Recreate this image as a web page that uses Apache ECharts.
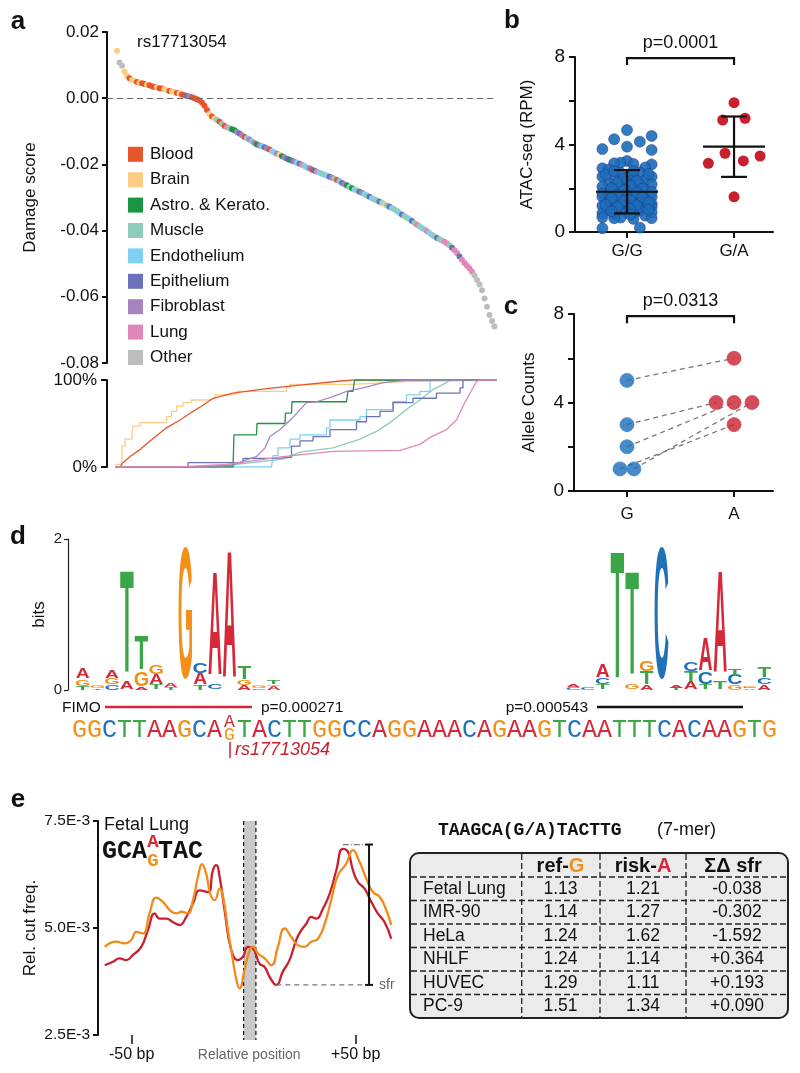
<!DOCTYPE html>
<html><head><meta charset="utf-8">
<script src="https://cdn.jsdelivr.net/npm/echarts@6/dist/echarts.min.js"></script>
<style>html,body{margin:0;padding:0;background:#fff}#c{width:800px;height:1073px}</style>
</head><body><div id="c"></div>
<script>
// ================= DATA =================
// Panel a
const tissueNames = ['Blood','Brain','Astro. & Kerato.','Muscle','Endothelium','Epithelium','Fibroblast','Lung','Other'];
const tissueCodes = 'BRKMEPFLO';
const tissueColors = ['#E9552B','#FBCD84','#1B9544','#8ECDB9','#7FD0F2','#6A72B9','#A784BF','#E287BA','#BDBDBD'];
const damageScores = [0.0143,0.0108,0.0098,0.0080,0.0068,0.0060,0.0055,0.0051,0.0049,0.0046,
 0.0045,0.0043,0.0040,0.0039,0.0036,0.0034,0.0033,0.0030,0.0029,0.0027,
 0.0024,0.0022,0.0020,0.0019,0.0016,0.0014,0.0011,0.0009,0.0007,0.0005,
 0.0003,0.0000,-0.0003,-0.0007,-0.0014,-0.0023,-0.0036,-0.0048,-0.0055,-0.0061,
 -0.0066,-0.0071,-0.0078,-0.0084,-0.0088,-0.0091,-0.0094,-0.0097,-0.0102,-0.0107,
 -0.0112,-0.0117,-0.0121,-0.0125,-0.0130,-0.0135,-0.0140,-0.0143,-0.0145,-0.0148,
 -0.0152,-0.0155,-0.0160,-0.0164,-0.0168,-0.0171,-0.0175,-0.0179,-0.0183,-0.0186,
 -0.0189,-0.0192,-0.0195,-0.0198,-0.0201,-0.0205,-0.0209,-0.0212,-0.0216,-0.0219,
 -0.0222,-0.0225,-0.0228,-0.0231,-0.0234,-0.0237,-0.0240,-0.0243,-0.0247,-0.0251,
 -0.0256,-0.0260,-0.0264,-0.0268,-0.0272,-0.0276,-0.0279,-0.0283,-0.0286,-0.0290,
 -0.0294,-0.0298,-0.0302,-0.0306,-0.0309,-0.0313,-0.0316,-0.0320,-0.0324,-0.0328,
 -0.0332,-0.0336,-0.0341,-0.0347,-0.0352,-0.0356,-0.0361,-0.0366,-0.0371,-0.0377,
 -0.0382,-0.0387,-0.0392,-0.0397,-0.0402,-0.0407,-0.0413,-0.0418,-0.0422,-0.0426,
 -0.0430,-0.0434,-0.0439,-0.0444,-0.0452,-0.0459,-0.0468,-0.0478,-0.0488,-0.0498,
 -0.0506,-0.0514,-0.0524,-0.0536,-0.0549,-0.0563,-0.0580,-0.0605,-0.0630,-0.0655,
 -0.0673,-0.0690];
const damageTissues = 'ROORRBRRBR'+'BBRBBBRBBR'+'RBRRBRBBPF'+'BBBBBBBRBR'+'MBMBLMKKFP'+
 'FBEFMFKFEP'+'FBEEFRKFPK'+'PFEPLMEFBP'+'LEMMEPFMBE'+'PFKMKEMPFE'+'MPEMMPERMP'+
 'EMMEPMMEPM'+'LMEMLEMMPM'+'MLLMPLLPLL'+'LLLOOOOOOOOO';
// cumulative fraction (%) per tissue along the rank
const cdfBrain = [[-0.8,3],[2,24],[3.2,32],[6,37],[6.4,47],[9.2,51],[18.4,51],[19.8,58],[21.8,64],[23.8,70],[26.4,74],[29.8,77],[37.2,79],[39.2,83],[46.4,84],[47.8,87],[67.8,92],[69.2,95],[94.4,97],[107.8,98],[109.2,100],[152,100]];
const cdfBlood = [[-0.8,0],[1.2,0],[2.4,5],[5.2,12],[9.2,20],[13.2,30],[19.8,45],[25.2,54],[30.4,64],[34.4,71],[38.4,79],[46.4,85],[59.8,90],[73.2,94],[86.4,98],[94.4,100],[152,100]];
const cdfAstro = [[-0.8,0],[46.4,0],[46.8,37],[55.8,37],[56,50],[67.2,50],[67.4,62],[69.8,62],[70,75],[91.8,75],[92.4,87],[94.4,89],[95,100],[152,100]];
const cdfFibro = [[-0.8,0],[28,0],[28,2],[46.4,2],[50.4,7],[55.8,12],[59.2,22],[61.2,35],[65.2,43],[70.4,57],[75.8,74],[79.8,75],[86.4,81],[91.8,87],[98.4,91],[106.4,97],[117.2,100],[152,100]];
const cdfEpi = [[-0.8,0],[28.4,0],[28.4,5],[50.4,5],[50.4,10],[62.4,11],[69.8,24],[73.2,30],[78.4,35],[85.2,43],[95.8,52],[99.8,58],[105.2,64],[110.4,74],[118.4,79],[127.8,85],[137.2,91],[138.4,100],[152,100]];
const cdfEndo = [[-0.8,0],[61.8,0],[62.4,13],[64.4,22],[69.2,32],[73.2,37],[83.8,45],[85.2,54],[97.2,58],[99.8,66],[110.4,75],[115.8,83],[121.2,87],[125.2,100],[152,100]];
const cdfMuscle = [[-0.8,0],[38.4,0],[50.4,4],[66.4,9],[73.2,17],[86.4,22],[97.2,32],[103.8,41],[109.2,51],[115.8,66],[121.2,77],[126.4,89],[131.8,97],[133.2,100],[152,100]];
const cdfLung = [[-0.8,0],[24.4,0],[24.4,1],[43.8,3],[66.4,12],[86.4,18],[113.2,19],[121.2,26],[125.2,34],[131.8,43],[135.8,54],[138.4,70],[141.2,85],[143.8,98],[145.2,100],[152,100]];

// Panel b
const ggValues = [4.66,4.39,4.24,4.13,3.90,3.79,3.75,3.25,3.17,3.14,3.11,3.09,2.95,2.91,2.85,2.72,2.70,2.53,2.53,2.50,2.42,2.38,2.30,2.22,2.20,2.18,2.07,2.05,2.02,1.95,1.93,1.86,1.84,1.76,1.74,1.72,1.66,1.64,1.61,1.61,1.52,1.50,1.48,1.40,1.38,1.30,1.28,1.30,1.20,1.18,1.16,1.10,1.08,1.00,0.98,0.97,0.90,0.88,0.90,0.85,0.82,0.75,0.67,0.66,0.63,0.63,0.60,0.20,0.17,
 2.60,2.45,2.35,2.25,2.12,2.00,1.98,1.90,1.80,1.70,1.58,1.55,1.45,1.42,1.35,1.25,1.22,1.15,1.05,1.02,0.95,0.80,2.65,2.62,2.80,2.78];
const ggJitter = [0,0.23,-0.12,0.12,0,-0.23,0.23,0,-0.06,-0.12,0.06,0.23,0.17,-0.23,-0.17,0.12,-0.06,-0.23,0.23,0.06,-0.12,0.17,0,-0.17,0.12,0.23,-0.23,-0.06,0.06,-0.12,0.17,0,0.23,-0.23,-0.17,0.12,-0.06,0.06,-0.23,0.23,-0.12,0,0.17,-0.17,0.12,-0.06,0.06,0.23,-0.23,0,0.23,-0.12,0.17,-0.17,-0.06,0.12,0,0.06,0.23,-0.23,-0.12,0.17,-0.23,-0.06,-0.12,0.23,0.06,0.12,-0.23,
 0.03,-0.03,0.09,-0.09,0.03,-0.145,0.145,-0.03,0.09,-0.09,0.145,-0.145,0.03,-0.03,0.2,-0.2,0.09,-0.09,0.03,0.2,-0.145,0.03,0.2,-0.2,0.06,-0.12];
const gaValues = [5.91,5.12,5.20,3.14,3.60,3.25,3.47,1.61];
const gaJitter = [0,-0.106,0.103,-0.24,-0.084,0.087,0.243,0];
const atacGroups = ['G/G','G/A'];
const atacMean = [1.84,3.90];
const atacSD = [0.99,1.38];
const atacP = 'p=0.0001';

// Panel c
const alleleGroups = ['G','A'];
const gCounts = [5,3,2,1,1];
const gJitter = [0,0,0,0.065,-0.065];
const aCounts = [6,4,4,4,3];
const aJitter = [0,-0.168,0,0.168,0];
const alleleP = 'p=0.0313';

// Panel d
const leftMotif = [
 [['T',0.05],['G',0.09],['A',0.13]],
 [['T',0.02],['G',0.03]],
 [['C',0.065],['G',0.085],['A',0.11]],
 [['A',0.10],['T',1.38]],
 [['A',0.04],['G',0.19],['T',0.46]],
 [['T',0.07],['A',0.13],['G',0.12]],
 [['T',0.03],['A',0.05]],
 [['G',1.76]],
 [['T',0.06],['A',0.15],['C',0.13]],
 [['C',0.07],['A',1.39]],
 [['A',1.70]],
 [['A',0.06],['G',0.07],['T',0.18]],
 [['C',0.02],['G',0.03]],
 [['A',0.05],['G',0.02],['T',0.05]]
];
const rightMotif = [
 [['C',0.04],['A',0.04]],
 [['C',0.03]],
 [['T',0.07],['C',0.08],['A',0.17]],
 [['T',1.70]],
 [['G',0.075],['T',1.39]],
 [['A',0.065],['T',0.18],['G',0.13]],
 [['C',1.76]],
 [['T',0.03],['A',0.03]],
 [['A',0.11],['T',0.13],['C',0.12]],
 [['T',0.07],['C',0.15],['A',0.44]],
 [['T',0.11],['A',1.38]],
 [['G',0.065],['C',0.13],['T',0.09]],
 [['A',0.02],['C',0.02],['G',0.02]],
 [['A',0.065],['C',0.09],['T',0.13]]
];
const seqLeft = 'GGCTTAAGCA';
const seqAlleles = ['A','G'];
const seqRight = 'TACTTGGCCAGGAAACAGAAGTCAATTTCACAAGTG';
const fimoP = ['p=0.000271','p=0.000543'];
const snpId = 'rs17713054';

// Panel e
const bpOrange = [-62,-56.8,-53.1,-50.1,-47.9,-44.9,-42,-39,-36,-33,-30,-27.8,-24.9,-22.6,-20.4,-18.6,-16.7,-14.9,-12.9,-10.7,-8.9,-7,-4.8,-3,-1.8,0.4,2.7,4.2,6.4,9.4,12.4,15.3,18.3,21.3,24.2,27.2,30.2,33.2,36.2,39.1,42.1,45.8,48.8,51.8,54.8,57.7,60.7,63.7,65.9];
const cutOrange = [4.56,4.68,4.64,4.72,4.91,4.87,5.34,5.71,5.61,5.42,5.34,5.38,5.34,5.65,6.19,6.49,6.27,5.80,5.65,5.92,5.65,4.95,4.25,3.74,3.59,4.02,4.48,4.56,4.41,4.29,4.13,4.56,4.99,4.79,4.60,4.56,4.68,4.75,5.10,5.65,6.23,6.50,6.82,6.54,6.15,5.84,5.73,5.42,5.07];
const bpRed = [-62,-58.3,-55.4,-52.4,-49.4,-45.7,-42.7,-39.7,-37.5,-34.5,-31.6,-28.6,-25.6,-22.6,-19.6,-15.9,-13.7,-12.2,-10.7,-8.5,-5.5,-2.5,-0.3,1.9,4.2,7.1,9.4,11.6,14.6,17.5,20.5,23.5,25.8,28,30.2,32.4,35.4,38.4,41.4,44.3,46.6,48.8,51,54,57,59.9,62.9,65.9];
const cutRed = [4.13,4.21,4.29,4.25,4.37,4.56,4.95,5.34,5.22,5.22,5.14,5.07,5.26,5.57,5.88,5.84,6.35,6.47,6.19,5.42,4.48,4.25,4.33,4.56,4.52,4.17,4.09,3.86,3.67,3.98,4.25,4.72,4.95,5.10,5.26,5.22,5.45,5.80,6.35,6.85,6.78,6.35,6.08,5.92,5.61,5.34,5.14,4.75];
const snpBand = [0, 5.5];
const sfrMark = {x:56, top:6.95, bottom:3.67, topFrom:44.3, bottomFrom:14.6};
const eTicks = [-50, 50];
const eTickLabels = ['-50 bp','+50 bp'];
const tableRows = ['Fetal Lung','IMR-90','HeLa','NHLF','HUVEC','PC-9'];
const refG = ['1.13','1.14','1.24','1.24','1.29','1.51'];
const riskA = ['1.21','1.27','1.62','1.14','1.11','1.34'];
const sumDeltaSfr = ['-0.038','-0.302','-1.592','+0.364','+0.193','+0.090'];

// ================= STYLE =================
const SANS = '"Liberation Sans", Arial, Helvetica, sans-serif';
const MONO = '"Liberation Mono", "DejaVu Sans Mono", monospace';
const BASE = {A:'#D62839', C:'#1F72B8', G:'#F39019', T:'#3BA647'};
const RED = '#C8202F', BLUE = '#1C6DB8', INK = '#111';

function T(x,y,text,font,fill,align,valign){
  return {type:'text', x:x, y:y, silent:true, z:10, style:{text:text, font:font, fill:fill||INK,
    align:align||'left', textAlign:align||'left', verticalAlign:valign||'middle', textVerticalAlign:valign||'middle'}};
}
function L(x1,y1,x2,y2,stroke,lw,dash){
  return {type:'line', silent:true, z:10, shape:{x1:x1,y1:y1,x2:x2,y2:y2}, style:{stroke:stroke, lineWidth:lw, lineDash:dash||null}};
}
const axLine = w => ({show:true, onZero:false, lineStyle:{color:INK, width:w}});
const axTick = (len,w) => ({show:true, length:len, inside:false, lineStyle:{color:INK, width:w}});
const gridBase = {containLabel:false, outerBoundsMode:'none', show:false};

// ================= GRAPHICS =================
const G = [];
[['a',18,22],['b',512,21],['c',511,307],['d',18,537],['e',18,800]].forEach(p=>G.push(T(p[1],p[2],p[0],'bold 26px '+SANS,INK,'center','middle')));
G.push(T(137,42,snpId,'17px '+SANS));
tissueNames.forEach((n,k)=>{
  const y = 154.3 + 25.4*k;
  G.push({type:'rect', silent:true, z:10, shape:{x:128,y:y-7.5,width:15,height:15}, style:{fill:tissueColors[k]}});
  G.push(T(150,y,n,'17px '+SANS));
});
G.push(T(62,708,'FIMO','15.5px '+SANS));
G.push(L(105,707,252,707,BASE.A,2.5));
G.push(T(261,708,fimoP[0],'15.5px '+SANS));
G.push(T(588,708,fimoP[1],'15.5px '+SANS,INK,'right'));
G.push(L(597,707,743,707,INK,2.5));
const seqX0 = 72, seqW = 15, seqY = 730;
seqLeft.split('').forEach((ch,i)=>G.push(T(seqX0+seqW*(i+0.5),seqY,ch,'25px '+MONO,BASE[ch],'center')));
G.push(T(seqX0+seqW*(seqLeft.length+0.5),seqY-8,seqAlleles[0],'18px '+MONO,BASE[seqAlleles[0]],'center'));
G.push(T(seqX0+seqW*(seqLeft.length+0.5),seqY+5,seqAlleles[1],'18px '+MONO,BASE[seqAlleles[1]],'center'));
seqRight.split('').forEach((ch,i)=>G.push(T(seqX0+seqW*(seqLeft.length+1+i+0.5),seqY,ch,'25px '+MONO,BASE[ch],'center')));
G.push(L(230,742,230,758,RED,1.5));
G.push(T(235,750,snpId,'italic 18px '+SANS,RED));
G.push(T(104,825,'Fetal Lung','18px '+SANS));
G.push(T(102,852,'GCA','bold 25px '+MONO));
G.push(T(153,842,seqAlleles[0],'bold 19px '+MONO,BASE.A,'center'));
G.push(T(153,861,seqAlleles[1],'bold 19px '+MONO,BASE.G,'center'));
G.push(T(158,852,'TAC','bold 25px '+MONO));
G.push(T(438,830,'TAAGCA(G/A)TACTTG','bold 18px '+MONO));
G.push(T(657,830,'(7-mer)','18px '+SANS));
const tb = {x:410,y:853,w:378,h:165,head:24,row:23.5,cols:[521.7,600,686],cx:[560.5,643,737]};
G.push({type:'rect', silent:true, z:5, shape:{x:tb.x,y:tb.y,width:tb.w,height:tb.h,r:9}, style:{fill:'#EBEBEB', stroke:'#222', lineWidth:2}});
for(let r=0;r<tableRows.length;r++){
  const yb = tb.y+tb.head+tb.row*r;
  G.push(L(tb.x+1,yb,tb.x+tb.w-1,yb,'#222',1.3,[6,3]));
  const yc = yb+tb.row/2;
  G.push(T(423,yc,tableRows[r],'17.5px '+SANS));
  G.push(T(tb.cx[0],yc,refG[r],'17.5px '+SANS,INK,'center'));
  G.push(T(tb.cx[1],yc,riskA[r],'17.5px '+SANS,INK,'center'));
  G.push(T(tb.cx[2],yc,sumDeltaSfr[r],'17.5px '+SANS,INK,'center'));
}
tb.cols.forEach(x=>G.push(L(x,tb.y+1,x,tb.y+tb.h-1,'#222',1.3,[6,3])));
const hy = tb.y+tb.head/2+1;
G.push({type:'text', silent:true, z:10, x:tb.cx[0], y:hy, style:{text:'{a|ref-}{b|G}', align:'center', textAlign:'center', verticalAlign:'middle', textVerticalAlign:'middle',
  rich:{a:{font:'bold 20px '+SANS, fill:INK}, b:{font:'bold 20px '+SANS, fill:BASE.G}}}});
G.push({type:'text', silent:true, z:10, x:tb.cx[1], y:hy, style:{text:'{a|risk-}{b|A}', align:'center', textAlign:'center', verticalAlign:'middle', textVerticalAlign:'middle',
  rich:{a:{font:'bold 20px '+SANS, fill:INK}, b:{font:'bold 20px '+SANS, fill:BASE.A}}}});
G.push(T(tb.cx[2]-4,hy,'ΣΔ sfr','bold 20px '+SANS,INK,'center'));

// ================= SERIES HELPERS =================
const glyphW = {A:0.70, C:0.64, G:0.68, T:0.60};
function motifData(motif){
  const out = [];
  motif.forEach((stack,p)=>{ let base = 0; stack.forEach(([b,h])=>{ out.push([p+1, base, base+h, 'ACGT'.indexOf(b)]); base += h; }); });
  return out;
}
function logoRender(params, api){
  const pos = api.value(0), y0 = api.value(1), y1 = api.value(2), letter = 'ACGT'[api.value(3)];
  const a = api.coord([pos-0.46, y0]), b = api.coord([pos+0.46, y1]);
  const w = b[0]-a[0], h = a[1]-b[1];
  if (h <= 0.3) return null;
  const F = 40, sx = w/(glyphW[letter]*F), sy = h/(0.716*F);
  return {type:'text', x:(a[0]+b[0])/2, y:(a[1]+b[1])/2 + 0.0115*F*sy, scaleX:sx, scaleY:sy,
    style:{text:letter, font:'bold 40px '+SANS, fill:BASE[letter], align:'center', textAlign:'center', verticalAlign:'middle', textVerticalAlign:'middle'}};
}
function bracketRender(label){
  return function(params, api){
    const a = api.coord([api.value(0), api.value(2)]), b = api.coord([api.value(1), api.value(2)]);
    const st = {stroke:INK, lineWidth:2.2, fill:null};
    return {type:'group', children:[
      {type:'polyline', shape:{points:[[a[0],a[1]+7],[a[0],a[1]],[b[0],b[1]],[b[0],b[1]+7]]}, style:st},
      {type:'text', x:(a[0]+b[0])/2, y:a[1]-15, style:{text:label, font:'18px '+SANS, fill:INK, align:'center', textAlign:'center', verticalAlign:'middle', textVerticalAlign:'middle'}}
    ]};
  };
}

const option = {
  animation:false,
  backgroundColor:'#fff',
  textStyle:{fontFamily:SANS},
  graphic:{elements:G},
  grid:[
    Object.assign({left:107, top:32, width:390, height:331}, gridBase),
    Object.assign({left:107, top:380, width:390, height:87}, gridBase),
    Object.assign({left:575, top:57, width:198, height:175}, gridBase),
    Object.assign({left:574, top:314, width:199, height:177}, gridBase),
    Object.assign({left:68, top:539, width:213, height:151}, gridBase),
    Object.assign({left:558.6, top:539, width:213, height:151}, gridBase),
    Object.assign({left:98, top:821, width:302.4, height:214}, gridBase)
  ],
  xAxis:[
    {gridIndex:0, type:'value', min:-4, max:152, show:false},
    {gridIndex:1, type:'value', min:-4, max:152, show:false},
    {gridIndex:2, type:'value', min:0.514, max:2.364, axisLine:axLine(2), splitLine:{show:false},
      axisTick:Object.assign(axTick(6,2),{customValues:[1,2]}),
      axisLabel:{customValues:[1,2], formatter:v=>atacGroups[Math.round(v)-1], fontSize:17, color:INK, margin:11}},
    {gridIndex:3, type:'value', min:0.505, max:2.364, axisLine:axLine(2), splitLine:{show:false},
      axisTick:Object.assign(axTick(6,2),{customValues:[1,2]}),
      axisLabel:{customValues:[1,2], formatter:v=>alleleGroups[Math.round(v)-1], fontSize:17, color:INK, margin:15}},
    {gridIndex:4, type:'value', min:0, max:14.5, show:false},
    {gridIndex:5, type:'value', min:0, max:14.5, show:false},
    {gridIndex:6, type:'value', min:-65, max:70, axisLine:{show:false, onZero:false}, splitLine:{show:false},
      axisTick:Object.assign(axTick(9,1.5),{customValues:eTicks}),
      axisLabel:{customValues:eTicks, formatter:v=>eTickLabels[eTicks.indexOf(v)], fontSize:16, color:INK, margin:12},
      name:'Relative position', nameLocation:'middle', nameGap:13, nameMoveOverlap:false, nameTextStyle:{fontSize:14, color:'#666'}}
  ],
  yAxis:[
    {gridIndex:0, type:'value', min:-0.08, max:0.02, interval:0.02, axisLine:axLine(2), axisTick:axTick(5,2), splitLine:{show:false},
      axisLabel:{formatter:v=>(Math.abs(v)<1e-9?0:v).toFixed(2), fontSize:17, color:INK, margin:8},
      name:'Damage score', nameLocation:'middle', nameGap:68, nameTextStyle:{fontSize:17, color:INK}},
    {gridIndex:1, type:'value', min:0, max:100, interval:100, axisLine:axLine(2), axisTick:axTick(6,2), splitLine:{show:false},
      axisLabel:{formatter:v=>v+'%', fontSize:17, color:INK, margin:10}},
    {gridIndex:2, type:'value', min:0, max:8, interval:2, axisLine:axLine(2), axisTick:axTick(6,2), splitLine:{show:false},
      axisLabel:{formatter:v=>(v%4===0?String(v):''), fontSize:19, color:INK, margin:10},
      name:'ATAC-seq (RPM)', nameLocation:'middle', nameGap:39, nameTextStyle:{fontSize:17, color:INK}},
    {gridIndex:3, type:'value', min:0, max:8, interval:2, axisLine:axLine(2), axisTick:axTick(6,2), splitLine:{show:false},
      axisLabel:{formatter:v=>(v%4===0?String(v):''), fontSize:19, color:INK, margin:10},
      name:'Allele Counts', nameLocation:'middle', nameGap:36, nameTextStyle:{fontSize:17, color:INK}},
    {gridIndex:4, type:'value', min:0, max:2, interval:2, axisLine:{show:true,onZero:false,lineStyle:{color:'#222',width:1.2}},
      axisTick:{show:true,length:4,lineStyle:{color:'#222',width:1.2}}, splitLine:{show:false},
      axisLabel:{fontSize:15, color:'#222', margin:6},
      name:'bits', nameLocation:'middle', nameGap:20, nameTextStyle:{fontSize:17, color:INK}},
    {gridIndex:5, type:'value', min:0, max:2, show:false},
    {gridIndex:6, type:'value', min:2.5, max:7.5, interval:2.5, axisLine:axLine(2), axisTick:axTick(5,2), splitLine:{show:false},
      axisLabel:{formatter:v=>v.toFixed(1)+'E-3', fontSize:15.5, color:INK, margin:8},
      name:'Rel. cut freq.', nameLocation:'middle', nameGap:59, nameTextStyle:{fontSize:17, color:INK}}
  ],
  series:[
    {type:'line', xAxisIndex:0, yAxisIndex:0, data:[], z:1, silent:true,
      markLine:{silent:true, symbol:'none', label:{show:false}, lineStyle:{type:[6,4], color:'#666', width:1.2}, data:[{yAxis:0}]}},
    {type:'scatter', xAxisIndex:0, yAxisIndex:0, z:3, symbolSize:6, silent:true,
      data:damageScores.map((v,i)=>[i, v, tissueCodes.indexOf(damageTissues[i])]),
      itemStyle:{color:p=>tissueColors[p.data[2]], opacity:1}},
    ...[[cdfBrain,1,'end'],[cdfBlood,0,false],[cdfMuscle,3,false],[cdfEndo,4,'end'],[cdfEpi,5,'end'],[cdfAstro,2,'end'],[cdfFibro,6,false],[cdfLung,7,false]].map(([d,k,st])=>({
      type:'line', xAxisIndex:1, yAxisIndex:1, data:d, step:st, showSymbol:false, silent:true, z:3,
      lineStyle:{color:tissueColors[k], width:1.3}})),
    {type:'scatter', xAxisIndex:2, yAxisIndex:2, z:3, symbolSize:11, silent:true,
      data:ggValues.map((v,i)=>[1+ggJitter[i], v]), itemStyle:{color:BLUE, opacity:0.9, borderColor:'rgba(36,52,140,0.7)', borderWidth:0.8}},
    {type:'scatter', xAxisIndex:2, yAxisIndex:2, z:3, symbolSize:11, silent:true,
      data:gaValues.map((v,i)=>[2+gaJitter[i], v]), itemStyle:{color:RED, opacity:1}},
    {type:'custom', xAxisIndex:2, yAxisIndex:2, z:5, silent:true,
      data:atacMean.map((m,i)=>[i+1, m, atacSD[i]]), encode:{x:0, y:1},
      renderItem:(params, api)=>{
        const x = api.value(0), m = api.value(1), s = api.value(2);
        const c = api.coord([x,m]), lo = api.coord([x,m-s]), hi = api.coord([x,m+s]);
        const st = {stroke:INK, lineWidth:2.2};
        return {type:'group', children:[
          {type:'line', shape:{x1:c[0]-31,y1:c[1],x2:c[0]+31,y2:c[1]}, style:st},
          {type:'line', shape:{x1:c[0],y1:lo[1],x2:c[0],y2:hi[1]}, style:st},
          {type:'line', shape:{x1:c[0]-13,y1:lo[1],x2:c[0]+13,y2:lo[1]}, style:st},
          {type:'line', shape:{x1:c[0]-13,y1:hi[1],x2:c[0]+13,y2:hi[1]}, style:st}
        ]};
      }},
    {type:'custom', xAxisIndex:2, yAxisIndex:2, z:5, silent:true, clip:false,
      data:[[1,2,7.95]], encode:{x:[0,1], y:2}, renderItem:bracketRender(atacP)},
    {type:'custom', xAxisIndex:3, yAxisIndex:3, z:2, silent:true,
      data:gCounts.map((g,i)=>[1+gJitter[i], g, 2+aJitter[i], aCounts[i]]), encode:{x:[0,2], y:[1,3]},
      renderItem:(params, api)=>{
        const a = api.coord([api.value(0), api.value(1)]), b = api.coord([api.value(2), api.value(3)]);
        return {type:'line', shape:{x1:a[0],y1:a[1],x2:b[0],y2:b[1]}, style:{stroke:'#777', lineWidth:1.3, lineDash:[5,4]}};
      }},
    {type:'scatter', xAxisIndex:3, yAxisIndex:3, z:3, symbolSize:14, silent:true,
      data:gCounts.map((v,i)=>[1+gJitter[i], v]), itemStyle:{color:BLUE, borderColor:'#3a86cc', borderWidth:1}},
    {type:'scatter', xAxisIndex:3, yAxisIndex:3, z:3, symbolSize:14, silent:true,
      data:aCounts.map((v,i)=>[2+aJitter[i], v]), itemStyle:{color:RED, borderColor:'#d8434f', borderWidth:1}},
    {type:'custom', xAxisIndex:3, yAxisIndex:3, z:5, silent:true, clip:false,
      data:[[1,2,7.9]], encode:{x:[0,1], y:2}, renderItem:bracketRender(alleleP)},
    {type:'custom', xAxisIndex:4, yAxisIndex:4, z:3, silent:true, clip:false,
      data:motifData(leftMotif), encode:{x:0, y:[1,2]}, renderItem:logoRender},
    {type:'custom', xAxisIndex:5, yAxisIndex:5, z:3, silent:true, clip:false,
      data:motifData(rightMotif), encode:{x:0, y:[1,2]}, renderItem:logoRender},
    {type:'custom', xAxisIndex:6, yAxisIndex:6, z:1, silent:true, clip:false,
      data:[snpBand], encode:{x:[0,1]},
      renderItem:(params, api)=>{
        const a = api.coord([api.value(0), 7.5]), b = api.coord([api.value(1), 2.5]);
        const y2 = b[1]+5;
        const st = {stroke:INK, lineWidth:1.2, lineDash:[4,3]};
        return {type:'group', children:[
          {type:'rect', shape:{x:a[0], y:a[1], width:b[0]-a[0], height:y2-a[1]}, style:{fill:'#C9C9C9'}},
          {type:'line', shape:{x1:a[0],y1:a[1],x2:a[0],y2:y2}, style:st},
          {type:'line', shape:{x1:b[0],y1:a[1],x2:b[0],y2:y2}, style:st}
        ]};
      }},
    {type:'line', xAxisIndex:6, yAxisIndex:6, z:3, silent:true, showSymbol:false, smooth:0.5,
      data:bpRed.map((x,i)=>[x, cutRed[i]]), lineStyle:{color:RED, width:2.3}},
    {type:'line', xAxisIndex:6, yAxisIndex:6, z:4, silent:true, showSymbol:false, smooth:0.5,
      data:bpOrange.map((x,i)=>[x, cutOrange[i]]), lineStyle:{color:'#F28A1A', width:2.3}},
    {type:'custom', xAxisIndex:6, yAxisIndex:6, z:5, silent:true, clip:false,
      data:[[sfrMark.x, sfrMark.top, sfrMark.bottom, sfrMark.topFrom, sfrMark.bottomFrom]], encode:{x:0, y:[1,2]},
      renderItem:(params, api)=>{
        const t = api.coord([api.value(0), api.value(1)]), b = api.coord([api.value(0), api.value(2)]);
        const tf = api.coord([api.value(3), api.value(1)]), bf = api.coord([api.value(4), api.value(2)]);
        const k = {stroke:INK, lineWidth:2};
        return {type:'group', children:[
          {type:'line', shape:{x1:bf[0],y1:b[1],x2:b[0],y2:b[1]}, style:{stroke:'#777', lineWidth:1.2, lineDash:[5,4]}},
          {type:'line', shape:{x1:tf[0],y1:t[1],x2:t[0],y2:t[1]}, style:{stroke:'#777', lineWidth:1.2, lineDash:[6,2,1,2]}},
          {type:'line', shape:{x1:t[0],y1:t[1],x2:b[0],y2:b[1]}, style:k},
          {type:'line', shape:{x1:t[0]-4,y1:t[1],x2:t[0]+4,y2:t[1]}, style:k},
          {type:'line', shape:{x1:b[0]-4,y1:b[1],x2:b[0]+4,y2:b[1]}, style:k},
          {type:'text', x:b[0]+10, y:b[1], style:{text:'sfr', font:'14px '+SANS, fill:'#666', align:'left', textAlign:'left', verticalAlign:'middle', textVerticalAlign:'middle'}}
        ]};
      }}
  ]
};
const chart = echarts.init(document.getElementById('c'), null, {renderer:'canvas'});
chart.setOption(option);
</script>
</body></html>
